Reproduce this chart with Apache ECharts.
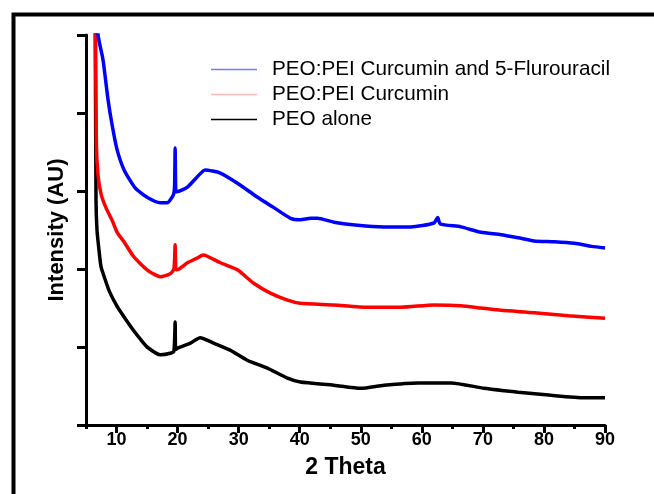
<!DOCTYPE html>
<html>
<head>
<meta charset="utf-8">
<script src="https://cdn.jsdelivr.net/npm/echarts@6/dist/echarts.min.js"></script>
<style>html,body{margin:0;padding:0;background:#fff}#c{width:654px;height:494px}</style>
</head>
<body>
<div id="c"></div>
<script>
// Series names
const seriesNames = ['PEO:PEI Curcumin and 5-Flurouracil', 'PEO:PEI Curcumin', 'PEO alone'];
// x tick labels
const xMajorTicks = [10, 20, 30, 40, 50, 60, 70, 80, 90];
const xMinorTicks = [5, 15, 25, 35, 45, 55, 65, 75, 85];

// PEO:PEI Curcumin and 5-Flurouracil (blue)
const blueX = [6.6, 6.97, 7.79, 8.61, 9.27, 10.09, 11.24, 13.05, 15.0, 17.15, 18.3, 19.3, 19.5, 19.6, 19.7, 19.9, 21.6, 23.2, 24.5, 27.0, 29.8, 33.1, 35.7, 38.5, 40.1, 41.8, 42.9, 45.6, 49.5, 53.8, 58.2, 62.0, 62.6, 63.0, 66.4, 69.7, 73.0, 75.8, 78.4, 81.7, 85.0, 87.8, 90.0];
const blueY = [5.6, 5.0, 4.68, 4.17, 3.85, 3.53, 3.27, 3.04, 2.92, 2.85, 2.85, 2.95, 3.05, 3.55, 3.0, 2.99, 3.05, 3.18, 3.27, 3.23, 3.10, 2.92, 2.79, 2.65, 2.63, 2.65, 2.65, 2.60, 2.56, 2.54, 2.54, 2.59, 2.66, 2.58, 2.54, 2.47, 2.44, 2.40, 2.36, 2.35, 2.33, 2.29, 2.27];

// PEO:PEI Curcumin (red)
const redX = [6.5, 6.7, 6.97, 7.5, 8.3, 9.3, 10.1, 11.3, 12.7, 14.0, 15.0, 16.0, 17.2, 18.8, 19.4, 19.6, 19.7, 19.9, 21.6, 23.2, 24.2, 27.0, 29.8, 32.4, 35.2, 38.0, 40.1, 45.6, 51.1, 56.6, 62.0, 66.4, 69.7, 73.0, 78.4, 84.0, 90.0];
const redY = [5.6, 3.6, 3.2, 2.95, 2.78, 2.62, 2.47, 2.34, 2.17, 2.06, 1.99, 1.94, 1.90, 1.94, 2.0, 2.31, 2.0, 1.99, 2.08, 2.14, 2.18, 2.08, 1.99, 1.82, 1.69, 1.60, 1.56, 1.54, 1.51, 1.51, 1.54, 1.53, 1.50, 1.47, 1.44, 1.40, 1.37];

// PEO alone (black)
const blackX = [6.5, 6.64, 6.8, 7.13, 7.46, 8.2, 8.9, 10.1, 11.1, 12.7, 13.9, 15.0, 17.2, 18.8, 19.4, 19.6, 19.7, 20.1, 22.1, 23.7, 25.9, 28.6, 31.4, 34.7, 38.0, 40.1, 45.6, 50.0, 53.8, 59.4, 64.8, 70.2, 75.8, 81.2, 86.6, 90.0];
const blackY = [5.6, 2.88, 2.5, 2.24, 2.03, 1.85, 1.70, 1.52, 1.40, 1.22, 1.10, 1.00, 0.90, 0.92, 0.95, 1.32, 0.97, 0.99, 1.05, 1.12, 1.05, 0.96, 0.83, 0.73, 0.60, 0.55, 0.51, 0.47, 0.51, 0.54, 0.54, 0.47, 0.42, 0.38, 0.35, 0.35];

const colors = ['#0000ff', '#ff0000', '#000000'];
const legendColors = ['#7878ff', '#ffb8b8', '#000000'];

function pairs(xs, ys) { return xs.map((x, i) => [x, ys[i]]); }

const chart = echarts.init(document.getElementById('c'), null, {renderer: 'canvas'});
const font = 'Arial, "Liberation Sans", sans-serif';

const option = {
  animation: false,
  backgroundColor: '#fff',
  graphic: [{
    type: 'rect', left: 11, top: 12, silent: true, z: 100,
    shape: {width: 800, height: 700},
    style: {fill: 'none', stroke: '#000', lineWidth: 4}
  }],
  grid: {left: 86, right: 49, top: 35, bottom: 69, containLabel: false},
  legend: {
    orient: 'vertical', left: 211, top: 59, padding: 0, itemGap: 4,
    itemWidth: 46, itemHeight: 1.5, icon: 'rect',
    textStyle: {fontFamily: font, fontSize: 20.7, color: '#000', padding: [0, 0, 0, 10]},
    data: seriesNames.map((n, i) => ({name: n, itemStyle: {color: legendColors[i]}}))
  },
  xAxis: [{
    type: 'value', min: 5, max: 90, position: 'bottom',
    splitLine: {show: false},
    axisLine: {show: true, onZero: false, lineStyle: {color: '#000', width: 3}},
    axisTick: {show: true, customValues: xMajorTicks, length: 8, lineStyle: {color: '#000', width: 3}},
    axisLabel: {customValues: xMajorTicks, margin: 6, fontFamily: font, fontSize: 18, fontWeight: 'bold', color: '#000'},
    name: '2 Theta', nameLocation: 'middle', nameGap: 31,
    nameTextStyle: {fontFamily: font, fontSize: 23, fontWeight: 'bold', color: '#000'}
  }, {
    type: 'value', min: 5, max: 90, position: 'bottom',
    splitLine: {show: false},
    axisLine: {show: false, onZero: false},
    axisTick: {show: true, customValues: xMinorTicks, length: 4, lineStyle: {color: '#000', width: 3}},
    axisLabel: {show: false}
  }],
  yAxis: {
    type: 'value', min: 0, max: 5, interval: 1,
    splitLine: {show: false},
    axisLine: {show: true, onZero: false, lineStyle: {color: '#000', width: 3}},
    axisTick: {show: true, length: 9, lineStyle: {color: '#000', width: 3}},
    axisLabel: {show: false},
    name: 'Intensity (AU)', nameLocation: 'middle', nameGap: 18,
    nameTextStyle: {fontFamily: font, fontSize: 22, fontWeight: 'bold', color: '#000'}
  },
  series: seriesNames.map((n, i) => ({
    name: n, type: 'line', xAxisIndex: 0,
    data: pairs([blueX, redX, blackX][i], [blueY, redY, blackY][i]),
    showSymbol: false, clip: true,
    smooth: 0.2,
    lineStyle: {color: colors[i], width: 3.5},
    itemStyle: {color: colors[i]},
    z: 3 - i
  }))
};
chart.setOption(option);
</script>
</body>
</html>
